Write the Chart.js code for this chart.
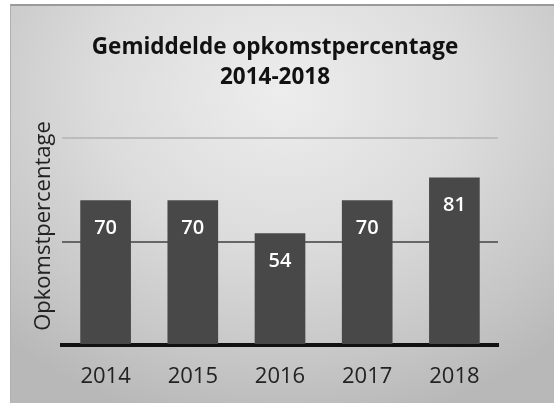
<!DOCTYPE html>
<html>
<head>
<meta charset="utf-8">
<script src="https://cdn.jsdelivr.net/npm/chart.js@4/dist/chart.umd.min.js"></script>
<style>
  html, body { margin: 0; padding: 0; background: #fff; }
  #wrap {
    position: absolute; left: 10px; top: 4px; width: 544px; height: 399px;
    background: radial-gradient(ellipse 75% 85% at 50% 22%, #ededed 0%, #dcdcdc 45%, #c6c6c6 80%, #b8b8b8 100%);
    border-top: 2px solid #9a9a9a; border-left: 1px solid #b0b0b0;
    box-sizing: border-box;
  }
  #box { position: relative; width: 543px; height: 397px; }
</style>
</head>
<body>
<div id="wrap"><div id="box"><canvas id="barchart"></canvas></div></div>
<script>
var years = ['2014', '2015', '2016', '2017', '2018'];
var turnout = [70, 70, 54, 70, 81];
var titleLines = ['Gemiddelde opkomstpercentage', '2014-2018'];
var yTitle = 'Opkomstpercentage';

// white value labels just below the top of each bar
var barLabels = {
  id: 'barLabels',
  afterDatasetsDraw: function(chart) {
    var ctx = chart.ctx;
    var meta = chart.getDatasetMeta(0);
    ctx.save();
    ctx.fillStyle = '#ffffff';
    ctx.font = '600 20px "Open Sans"';
    ctx.textAlign = 'center';
    ctx.textBaseline = 'middle';
    meta.data.forEach(function(bar, i) {
      ctx.fillText(String(chart.data.datasets[0].data[i]), bar.x, bar.y + 28);
    });
    ctx.restore();
  }
};

// rotated y axis title
var yAxisTitle = {
  id: 'yAxisTitle',
  afterDraw: function(chart) {
    var ctx = chart.ctx;
    ctx.save();
    ctx.translate(33, 220);
    ctx.rotate(-Math.PI / 2);
    ctx.fillStyle = '#222';
    ctx.font = '22px "Open Sans"';
    ctx.textAlign = 'center';
    ctx.textBaseline = 'middle';
    ctx.fillText(yTitle, 0, 0);
    ctx.restore();
  }
};

var canvas = document.getElementById('barchart');

var chart = new Chart(canvas, {
  type: 'bar',
  data: {
    labels: years,
    datasets: [{
      data: turnout,
      backgroundColor: '#484848',
      barPercentage: 0.7,
      categoryPercentage: 0.83,
    }],
  },
  options: {
    responsive: true,
    maintainAspectRatio: false,
    animation: false,
    layout: {
      padding: { left: 41, right: 56, top: 0, bottom: 0 },
    },
    plugins: {
      legend: { display: false },
      tooltip: { enabled: false },
      title: {
        display: true,
        text: titleLines,
        color: '#111',
        font: { family: 'Open Sans', size: 22.5, weight: 'bold', lineHeight: 1.36 },
        padding: { top: 26, bottom: 45 },
      },
    },
    scales: {
      x: {
        afterFit: function(scale) { scale.height = 58; },
        grid: { display: false, drawTicks: false },
        border: { display: true, color: '#111', width: 4 },
        ticks: {
          color: '#222',
          padding: 19,
          font: { family: 'Open Sans', size: 22 },
        },
      },
      y: {
        min: 0,
        max: 100,
        afterFit: function(scale) { scale.width = 10; },
        ticks: { display: false, stepSize: 50 },
        border: { display: false },
        grid: {
          drawTicks: false,
          lineWidth: 2,
          color: function(c) {
            if (c.tick && c.tick.value === 0) return 'rgba(0,0,0,0)';
            if (c.tick && c.tick.value === 100) return '#bcbcbc';
            return '#666666';
          },
        },
      },
    },
  },
  plugins: [barLabels, yAxisTitle],
});
</script>
</body>
</html>
